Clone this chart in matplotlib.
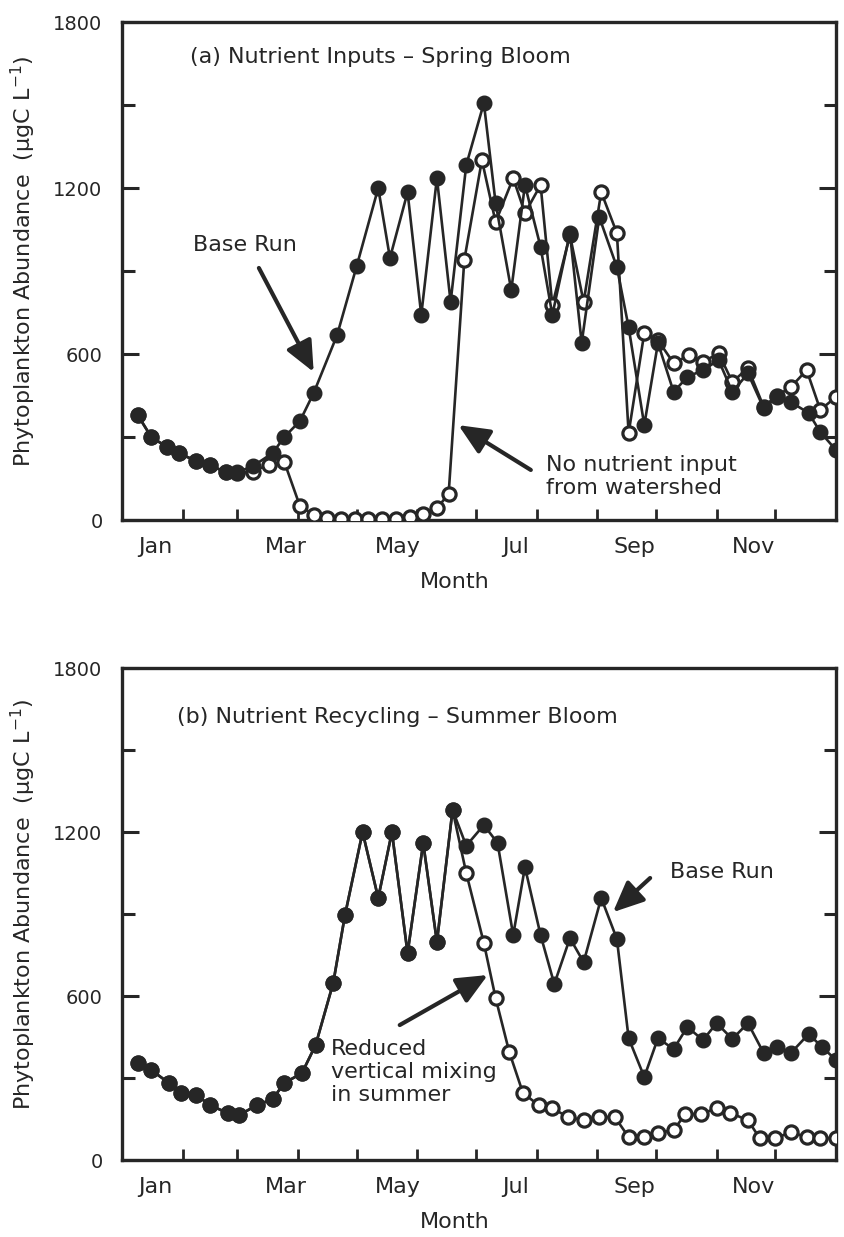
import numpy as np
import matplotlib.pyplot as plt

plt.rcParams['font.family'] = ['DejaVu Sans']

# x in day of year, y in ugC/L
month_edges = [31, 59, 90, 120, 151, 181, 212, 243, 273, 304, 334]
month_names = ['Jan', 'Mar', 'May', 'Jul', 'Sep', 'Nov']
month_label_pos = [17, 84, 141, 201, 262, 323]

# (a) nutrient inputs
a_base_day = [8, 15, 23, 29, 38, 45, 53, 59, 67, 77, 83, 91, 98, 110, 120, 131, 137, 146,
              153, 161, 168, 176, 185, 191, 199, 206, 214, 220, 229, 235, 244, 253, 259,
              267, 274, 282, 289, 297, 305, 312, 320, 328, 335, 342, 351, 357, 365]
a_base_val = [380, 300, 264, 242, 213, 199, 173, 173, 195, 242, 300, 358, 459, 669, 918,
              1200, 947, 1185, 741, 1236, 788, 1283, 1507, 1146, 831, 1211, 987, 741, 1037,
              640, 1095, 914, 697, 343, 640, 463, 517, 542, 578, 463, 530, 405, 445, 426,
              387, 318, 253]
a_noin_day = [8, 15, 23, 29, 38, 45, 53, 59, 67, 75, 83, 91, 98, 105, 112, 119, 126, 133,
              140, 147, 154, 161, 167, 175, 184, 191, 200, 206, 214, 220, 229, 236, 245,
              253, 259, 267, 274, 282, 290, 297, 305, 312, 320, 328, 335, 342, 350, 357, 365]
a_noin_val = [380, 300, 264, 242, 213, 199, 172, 170, 175, 200, 210, 50, 20, 8, 3, 3, 3, 3,
              5, 10, 22, 42, 95, 940, 1301, 1077, 1236, 1109, 1211, 777, 1030, 788, 1185,
              1037, 314, 676, 650, 567, 596, 571, 603, 499, 549, 410, 450, 481, 542, 398, 445]

# (b) nutrient recycling
b_base_day = [8, 15, 24, 30, 38, 45, 54, 60, 69, 77, 83, 92, 99, 108, 114, 123, 131, 138,
              146, 154, 161, 169, 176, 185, 192, 200, 206, 214, 221, 229, 236, 245, 253,
              259, 267, 274, 282, 289, 297, 304, 312, 320, 328, 335, 342, 351, 358, 365]
b_base_val = [355, 329, 282, 245, 238, 201, 172, 165, 201, 223, 282, 318, 421, 648, 896,
              1200, 959, 1200, 757, 1160, 798, 1281, 1150, 1226, 1160, 823, 1072, 823, 644,
              812, 724, 959, 809, 446, 304, 446, 406, 487, 439, 501, 443, 501, 392, 413,
              392, 461, 413, 366]
b_mix_day = [8, 15, 24, 30, 38, 45, 54, 60, 69, 77, 83, 92, 99, 108, 114, 123, 131, 138,
             146, 154, 161, 169, 176, 185, 191, 198, 205, 213, 220, 228, 236, 244, 252,
             259, 267, 274, 282, 288, 296, 304, 311, 320, 326, 334, 342, 350, 357, 365]
b_mix_val = [355, 329, 282, 245, 238, 201, 172, 165, 201, 223, 282, 318, 421, 648, 896,
             1200, 959, 1200, 757, 1160, 798, 1281, 1050, 794, 593, 395, 245, 201, 190,
             157, 146, 157, 157, 84, 84, 99, 110, 168, 168, 190, 172, 146, 80, 80, 102,
             84, 80, 80]

ink = '#262626'
fs = 16


def draw_panel(ax, open_x, open_y, base_x, base_y):
    ax.plot(open_x, open_y, '-', color=ink, lw=1.9, marker='o', ms=9.5,
            mfc='white', mec=ink, mew=2.3, zorder=3)
    ax.plot(base_x, base_y, '-', color=ink, lw=1.9, marker='o', ms=10.5,
            mfc=ink, mec=ink, zorder=4)
    ax.set_xlim(0, 365)
    ax.set_ylim(0, 1800)
    ax.set_yticks([0, 600, 1200, 1800])
    ax.set_yticks([300, 900, 1500], minor=True)
    ax.set_xticks(month_edges)
    ax.set_xticklabels([])
    ax.set_xticks(month_label_pos, minor=True)
    ax.set_xticklabels(month_names, minor=True)
    ax.tick_params(axis='y', which='major', direction='in', length=12, width=2.2,
                   labelsize=14, pad=14, right=True, color=ink, labelcolor=ink)
    ax.tick_params(axis='y', which='minor', direction='in', length=9, width=2.2,
                   right=True, color=ink)
    ax.tick_params(axis='x', which='major', direction='in', length=8, width=2, color=ink)
    ax.tick_params(axis='x', which='minor', length=0, labelsize=fs, pad=12, labelcolor=ink)
    for s in ax.spines.values():
        s.set_linewidth(2.4)
        s.set_color(ink)
    ax.set_xlabel('Month', fontsize=fs, color=ink)
    ax.xaxis.set_label_coords(0.466, -0.105)
    ax.set_ylabel('Phytoplankton Abundance  (µgC L$^{-1}$)', fontsize=fs, color=ink)
    ax.yaxis.set_label_coords(-0.118, 0.52)


fig = plt.figure(figsize=(8.44, 12.37), dpi=100)
ax1 = fig.add_axes([0.1445, 0.5796, 0.846, 0.4026])
ax2 = fig.add_axes([0.1445, 0.0622, 0.846, 0.3977])

draw_panel(ax1, a_noin_day, a_noin_val, a_base_day, a_base_val)
draw_panel(ax2, b_mix_day, b_mix_val, b_base_day, b_base_val)

arrow = dict(arrowstyle='-|>,head_length=0.85,head_width=0.38', lw=3.0, color=ink,
             mutation_scale=22, shrinkA=0, shrinkB=0)

ax1.text(35, 1673, '(a) Nutrient Inputs – Spring Bloom', fontsize=fs, color=ink, va='center')
ax1.text(63, 994, 'Base Run', fontsize=fs, color=ink, ha='center', va='center')
ax1.annotate('', xy=(98, 535), xytext=(70, 911), arrowprops=arrow)
ax1.text(217, 157, 'No nutrient input\nfrom watershed', fontsize=fs, color=ink,
         va='center', linespacing=1.2)
ax1.annotate('', xy=(172, 343), xytext=(209, 181), arrowprops=arrow)

ax2.text(28, 1621, '(b) Nutrient Recycling – Summer Bloom', fontsize=fs, color=ink, va='center')
ax2.text(280, 1054, 'Base Run', fontsize=fs, color=ink, va='center')
ax2.annotate('', xy=(251, 907), xytext=(270, 1032), arrowprops=arrow)
ax2.text(107, 322, 'Reduced\nvertical mixing\nin summer', fontsize=fs, color=ink,
         va='center', linespacing=1.2)
ax2.annotate('', xy=(187, 677), xytext=(142, 494), arrowprops=arrow)

fig.savefig('out.png', dpi=100, facecolor='white')
